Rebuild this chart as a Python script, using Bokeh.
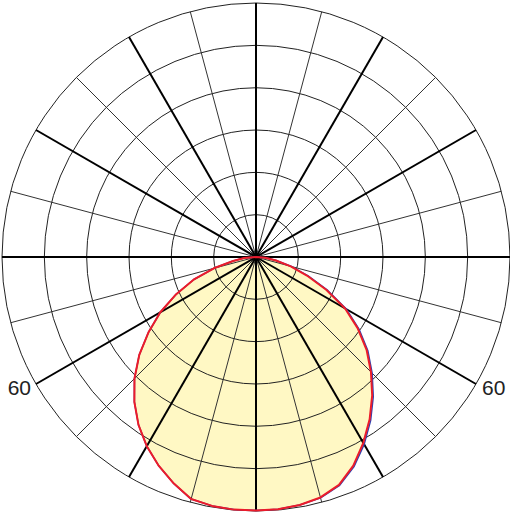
import math
from bokeh.plotting import figure
from bokeh.embed import file_html
from bokeh.resources import INLINE
from bokeh.core.properties import value

# Angles measured from nadir (0 = straight down), negative = left side
angles_deg = [-90, -85, -80, -75, -70, -65, -60, -55, -50, -45, -40, -35, -30, -25, -20, -15, -10, -5,
              0, 5, 10, 15, 20, 25, 30, 35, 40, 45, 50, 55, 60, 65, 70, 75, 80, 85, 90]

# C0-C180 plane (red)
c0_180 = [0.0, 0.28, 0.55, 1.03, 1.57, 2.08, 2.61, 3.10, 3.60, 4.06, 4.47, 4.84, 5.16, 5.44, 5.69, 5.92, 5.97, 5.99,
          5.99, 5.98, 5.95, 5.88, 5.73, 5.44, 5.07, 4.68, 4.27, 3.84, 3.41, 2.93, 2.43, 1.83, 1.28, 0.85, 0.48, 0.22, 0.0]

# C90-C270 plane (blue)
c90_270 = [0.0, 0.28, 0.55, 1.03, 1.57, 2.08, 2.61, 3.10, 3.60, 4.06, 4.47, 4.84, 5.16, 5.44, 5.69, 5.92, 5.97, 5.99,
           5.99, 5.98, 5.95, 5.89, 5.75, 5.47, 5.11, 4.72, 4.31, 3.88, 3.45, 2.97, 2.47, 1.87, 1.31, 0.87, 0.49, 0.22, 0.0]

ring_values = [1, 2, 3, 4, 5, 6]
spoke_angles = list(range(0, 360, 15))
label_angles = [-60, 60]
label_texts = ["60", "60"]

R = 6.0
W, H = 510, 515
ppu = 254 / R
cx, cy = 255.5, 256.5

p = figure(width=W, height=H,
           x_range=(-cx / ppu, (W - cx) / ppu), y_range=(-(H - cy) / ppu, cy / ppu),
           output_backend="svg", toolbar_location=None, min_border=0)
p.axis.visible = False
p.grid.visible = False
p.outline_line_color = None
p.background_fill_color = "white"
p.border_fill_color = "white"


def polar(vals):
    xs = [v * math.sin(math.radians(a)) for a, v in zip(angles_deg, vals)]
    ys = [-v * math.cos(math.radians(a)) for a, v in zip(angles_deg, vals)]
    return xs, ys

rx, ry = polar(c0_180)
bx, by = polar(c90_270)

# Fill
p.patch(rx, ry, fill_color="#FFF8C4", line_color=None)

# Rings
p.circle(x=[0] * len(ring_values), y=[0] * len(ring_values), radius=ring_values,
         radius_units="data", fill_color=None, line_color="#222222", line_width=1)

# Spokes
thin = [a for a in spoke_angles if a % 30 != 0]
thick = [a for a in spoke_angles if a % 30 == 0]
p.segment(x0=[0] * len(thin), y0=[0] * len(thin),
          x1=[R * math.sin(math.radians(a)) for a in thin],
          y1=[-R * math.cos(math.radians(a)) for a in thin],
          line_color="#333333", line_width=1)
p.segment(x0=[0] * len(thick), y0=[0] * len(thick),
          x1=[R * math.sin(math.radians(a)) for a in thick],
          y1=[-R * math.cos(math.radians(a)) for a in thick],
          line_color="black", line_width=2)

# Curves
p.line(bx, by, line_color="#3040B0", line_width=1.5, line_join="round")
p.line(rx, ry, line_color="#EC1C2A", line_width=2, line_join="round")

# Labels
for a, t in zip(label_angles, label_texts):
    x = R * math.sin(math.radians(a))
    y = -R * math.cos(math.radians(a))
    p.text(x=[x], y=[y], text=[t], text_font=value("Liberation Sans"), text_font_size="21px",
           text_color="#222222", text_baseline="middle",
           text_align="right" if a < 0 else "left",
           x_offset=-5 if a < 0 else 6, y_offset=4)

open("out.html", "w").write(file_html(p, INLINE))
